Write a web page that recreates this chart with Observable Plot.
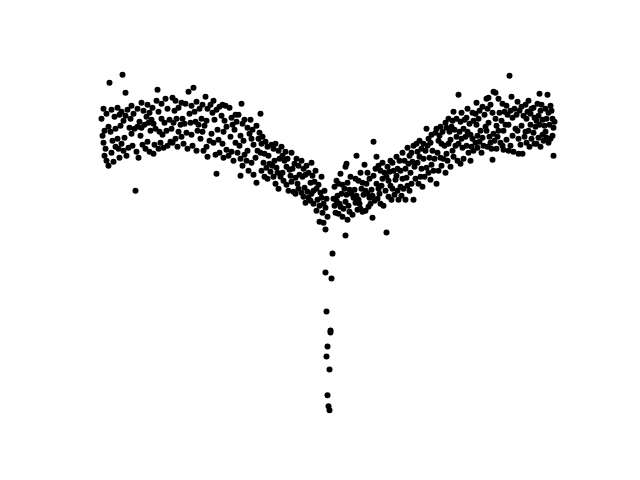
<!DOCTYPE html>
<html>
<head>
<meta charset="utf-8">
<script src="https://cdn.jsdelivr.net/npm/d3@7"></script>
<script src="https://cdn.jsdelivr.net/npm/@observablehq/plot@0.6"></script>
<style>
html, body { margin: 0; padding: 0; background: #fff; }
#chart { width: 640px; height: 480px; }
</style>
</head>
<body>
<div id="chart"></div>
<script>
// Values (x, y in the chart's own units; y grows downward).
const leftHump = [
[101,118],[102,135],[103,108],[103,142],[104,130],[104,155],[105,148],[106,160],[106,113],[108,165],[108,126],[109,82],[110,131],
[111,109],[111,152],[112,140],[113,161],[114,116],[115,146],[115,128],[117,107],[117,138],[118,148],[119,114],[119,157],[120,125],
[121,111],[121,143],[122,74],[123,120],[123,150],[124,137],[125,92],[125,115],[126,155],[127,109],[128,147],[129,127],[130,118],
[131,133],[131,105],[132,145],[133,113],[134,128],[135,190],[136,151],[137,108],[137,126],[138,157],[139,121],[140,135],
[141,102],[141,127],[142,144],[143,110],[144,124],[145,148],[146,116],[147,104],[147,141],[148,122],[149,112],[149,151],[150,130],
[151,119],[152,107],[153,153],[153,123],[154,144],[155,128],[156,100],[157,89],[158,148],[158,111],[159,131],[160,142],
[161,103],[161,118],[162,134],[163,147],[164,122],[165,98],[166,130],[167,145],[167,108],[169,119],[170,141],
[171,128],[172,97],[172,142],[173,122],[174,110],[175,100],[175,138],[176,118],[177,146],[178,131],[178,107],[180,124],
[181,136],[181,102],[182,118],[183,143],[184,123],[185,103],[186,132],[187,148],[188,91],[189,113],[190,122],
[191,134],[191,105],[192,145],[193,87],[194,111],[195,121],[196,150],[196,101],[197,130],[198,124],[199,108],[200,138],
[201,118],[202,104],[202,131],[203,150],[204,125],[205,96],[206,120],[206,146],[207,108],[207,156],[209,140],[210,104],
[211,133],[212,112],[213,100],[213,142],[214,119],[215,154],[216,173],[216,109],[217,129],[218,139],[219,106],[219,152],
[221,115],[222,143],[222,104],[223,131],[223,157],[224,120],[225,105],[226,126],[226,149],[228,155],[229,107],[230,136]
];
const descent = [
[231,117],[231,151],[232,124],[233,160],[234,129],[235,114],[235,142],[236,121],[237,152],[238,114],[239,145],[240,175],[240,135],[240,158],
[241,103],[242,123],[242,165],[243,140],[244,154],[244,119],[246,160],[247,127],[247,150],[248,170],[249,133],[250,119],
[251,138],[251,162],[252,129],[253,144],[253,174],[255,157],[256,182],[256,125],[257,150],[258,138],[259,132],[260,113],[260,152],
[261,143],[261,170],[262,136],[263,162],[264,153],[264,176],[265,141],[266,167],[267,146],[267,178],[268,155],[269,163],[270,171],
[271,144],[272,165],[273,176],[273,148],[274,160],[275,143],[275,183],[276,167],[277,172],[278,188],[278,150],[279,158],[280,176],
[281,146],[282,172],[282,155],[283,180],[284,160],[285,151],[286,184],[286,166],[287,158],[288,190],[289,169],[290,175],
[291,152],[291,181],[292,168],[293,191],[294,163],[295,177],[295,193],[296,158],[297,183],[298,188],[298,165],[299,174],
[301,160],[301,192],[302,176],[303,168],[303,196],[304,187],[305,174],[305,202],[306,165],[307,191],[308,197],[308,172],[310,200],[310,182],
[311,162],[311,193],[312,175],[313,190],[313,203],[314,181],[315,170],[316,210],[316,188],[317,199],[318,184],[319,205],[319,221],[320,192]
];
const valley = [
[321,176],[321,197],[322,212],[323,203],[323,222],[324,190],[325,207],[325,229],[326,198],[327,216],[333,198],[334,186],[334,205],[335,212],[336,180],[336,200]
];
const tail = [
[332,253],[325,272],[331,278],[326,311],[330,330],[330,332],[327,346],[326,356],[329,369],[327,395],[328,406],[329,410]
];
const ascent = [
[337,195],[338,183],[338,213],[339,203],[340,173],[340,206],[341,193],[342,184],[342,216],[343,208],[344,188],[345,166],[345,235],[345,201],
[346,163],[346,194],[347,219],[347,182],[348,205],[349,189],[349,211],[350,176],[351,193],[352,214],[353,197],[354,189],[355,202],[355,178],
[356,155],[356,195],[357,209],[358,199],[358,180],[359,203],[360,172],[360,208],[361,188],[362,182],[362,211],[363,194],[364,164],[365,210],[365,190],
[366,183],[367,172],[367,193],[368,206],[369,178],[369,197],[370,203],[371,189],[372,217],[372,195],[373,141],[373,175],[374,200],[375,168],
[376,156],[376,183],[377,198],[378,188],[378,165],[379,193],[380,203],[380,170],[381,185],[382,162],[382,178],[383,205],[384,172],[385,190],
[386,232],[386,176],[387,166],[388,196],[388,180],[389,171],[390,160],[390,185],[391,199],[392,162],[392,188],[393,170],[394,194],[395,179],
[396,175],[396,156],[397,190],[397,168],[398,199],[399,160],[400,186],[400,170],[401,195],[402,178],[402,152],[403,188],[404,160],[405,168],[405,199],
[406,177],[407,147],[407,185],[408,163],[409,190],[409,155],[410,172],[411,152],[411,183],[412,161],[413,199],[413,145],[414,166],[415,178],
[416,143],[417,162],[417,151],[418,183],[419,156],[419,140],[420,176],[421,148],[421,168],[422,186],[423,158],[423,143],[424,176],[425,150],
[426,128],[426,167],[427,145],[428,172],[428,138],[429,157],[430,179],[430,142],[431,164],[431,134],[432,150],[433,170],[434,158],[435,132],
[436,128],[436,183],[437,152],[438,140],[438,170],[439,135],[440,157],[440,126],[441,165],[441,143],[442,131],[443,158],[444,145],[445,122],[445,172]
];
const rightHump = [
[446,127],[446,153],[447,160],[448,143],[448,118],[449,131],[450,139],[450,166],[451,126],[452,150],[452,120],[453,111],[453,156],[454,129],[455,145],
[456,118],[456,136],[457,160],[458,94],[458,143],[459,131],[460,163],[460,121],[461,138],[461,112],[462,147],[463,128],[463,158],[464,119],[465,136],
[466,117],[466,145],[467,131],[467,108],[468,152],[469,123],[470,160],[470,134],[471,146],[472,112],[472,138],[473,120],[473,150],[475,113],[475,142],
[476,102],[476,124],[477,135],[477,147],[478,118],[479,110],[479,141],[480,130],[481,152],[482,106],[482,137],[483,145],[484,114],[485,126],
[486,98],[486,130],[487,108],[487,146],[488,97],[488,122],[489,136],[490,104],[490,142],[491,148],[492,159],[492,112],[493,91],[493,133],[494,140],[495,92],[495,118],
[496,125],[496,148],[497,136],[498,98],[498,130],[499,112],[500,142],[501,120],[502,103],[502,145],[503,130],[503,149],[504,111],[505,124],
[506,105],[506,139],[507,114],[508,150],[508,124],[509,75],[510,110],[510,145],[511,96],[512,117],[512,135],[513,151],[514,108],[515,128],
[516,114],[517,101],[517,130],[518,153],[518,138],[519,110],[520,144],[521,106],[521,125],[522,153],[523,115],[524,136],[525,104],[525,131],
[526,118],[526,142],[527,111],[528,130],[528,100],[529,146],[530,113],[530,124],[531,138],[531,108],[533,107],[533,132],[534,117],[534,143],[535,126],
[536,143],[536,120],[537,103],[538,115],[538,137],[539,93],[539,124],[540,110],[540,146],[541,104],[542,119],[542,134],[543,140],[544,125],[545,108],[545,131],
[546,118],[546,137],[547,94],[548,112],[548,142],[549,124],[550,105],[550,138],[551,110],[552,135],[552,118],[553,155],[553,127],[554,121]
];

const points = [...leftHump, ...descent, ...valley, ...tail, ...ascent, ...rightHump];

const chart = Plot.plot({
  width: 640,
  height: 480,
  marginLeft: 80,
  marginRight: 64,
  marginTop: 58,
  marginBottom: 53,
  style: {background: "#ffffff"},
  x: {domain: [80, 576], axis: null},
  y: {domain: [57.6, 427.2], reverse: true, axis: null},
  marks: [
    Plot.dot(points, {x: d => d[0], y: d => d[1], r: 3, fill: "#000000", stroke: null})
  ]
});
document.getElementById("chart").appendChild(chart);
</script>
</body>
</html>
